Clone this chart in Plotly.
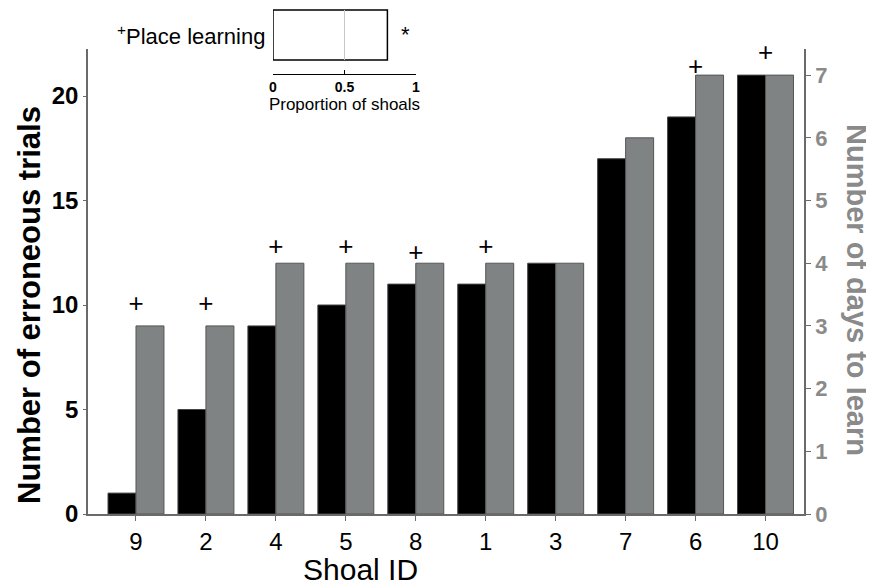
import plotly.graph_objects as go

# ---- data ----
shoal_ids = ["9", "2", "4", "5", "8", "1", "3", "7", "6", "10"]
erroneous_trials = [1, 5, 9, 10, 11, 11, 12, 17, 19, 21]
days_to_learn = [3, 3, 4, 4, 4, 4, 4, 6, 7, 7]
place_learning_y = [10.0, 10.0, 12.7, 12.7, 12.4, 12.7, None, None, 21.3, 22.0]
proportion_place = [0.8]
chance_level = 0.5
left_ticks = [0, 5, 10, 15, 20]
right_ticks = [0, 1, 2, 3, 4, 5, 6, 7]
inset_ticks = [0, 0.5, 1]
inset_ticklabels = ["0", "0.5", "1"]

plus_x = [s for s, v in zip(shoal_ids, place_learning_y) if v is not None]
plus_y = [v for v in place_learning_y if v is not None]

FONT = "Liberation Sans, Arial, sans-serif"
GREY = "#7f8383"
GREY_TEXT = "#8a8a8a"
AXIS = "#6a6a6a"
BW = 0.4
INSET_W = 0.76

# page body has an 8px margin: layout is expressed in window pixels and shifted
OFF = 8
PLOT_L, PLOT_R, PLOT_T, PLOT_B, PAPER_T = 88, 804, 49, 514, 8
PW = PLOT_R - PLOT_L
PH = PLOT_B - PAPER_T


def px(xw):
    return (xw - PLOT_L) / PW


def py(yw):
    return (PLOT_B - yw) / PH


fig = go.Figure()

fig.add_trace(go.Bar(
    x=shoal_ids, y=erroneous_trials, width=BW, offset=-BW,
    marker=dict(color="black", line=dict(color="#444444", width=1)),
    xaxis="x", yaxis="y", showlegend=False))
fig.add_trace(go.Bar(
    x=shoal_ids, y=days_to_learn, width=BW, offset=0,
    marker=dict(color=GREY, line=dict(color="#555555", width=1)),
    xaxis="x", yaxis="y2", showlegend=False))
fig.add_trace(go.Scatter(
    x=plus_x, y=plus_y, mode="text", text=["+"] * len(plus_x),
    textposition="middle center", textfont=dict(size=26, color="black", family=FONT),
    cliponaxis=False, xaxis="x", yaxis="y", showlegend=False))

# inset
fig.add_trace(go.Bar(
    x=proportion_place, y=[0], orientation="h", width=INSET_W,
    marker=dict(color="white", line=dict(color="black", width=1.5)),
    xaxis="x3", yaxis="y3", showlegend=False))
fig.add_trace(go.Scatter(
    x=[chance_level, chance_level], y=[-INSET_W / 2, INSET_W / 2], mode="lines",
    line=dict(color="#c8c8c8", width=1), xaxis="x3", yaxis="y3", showlegend=False))

main_top = py(PLOT_T)

fig.update_layout(
    width=874, height=586,
    margin=dict(l=PLOT_L - OFF, r=874 - (PLOT_R - OFF), t=PAPER_T - OFF, b=586 - (PLOT_B - OFF)),
    paper_bgcolor="white", plot_bgcolor="white",
    font=dict(family=FONT, color="black"),
    barmode="overlay",
    xaxis=dict(
        domain=[0, 1], range=[-0.686, 9.55], type="category",
        showline=True, linecolor=AXIS, linewidth=1.5,
        ticks="outside", ticklen=5, tickcolor=AXIS,
        tickfont=dict(size=24, family=FONT, color="black"),
        showgrid=False, zeroline=False, anchor="y"),
    yaxis=dict(
        domain=[0, main_top], range=[0, 22.25], tickvals=left_ticks,
        showline=True, linecolor=AXIS, linewidth=1.5,
        ticks="outside", ticklen=3, tickcolor=AXIS,
        tickfont=dict(size=24, family=FONT, color="black", weight="bold"),
        showgrid=False, zeroline=False, anchor="x"),
    yaxis2=dict(
        domain=[0, main_top], range=[0, 22.25 / 3], tickvals=right_ticks,
        overlaying="y", side="right", anchor="x",
        showline=True, linecolor=AXIS, linewidth=1.5,
        ticks="outside", ticklen=5, tickcolor=AXIS,
        tickfont=dict(size=22, family=FONT, color=GREY_TEXT, weight="bold"),
        showgrid=False, zeroline=False),
    xaxis3=dict(
        domain=[px(273), px(416)], range=[0, 1],
        tickvals=inset_ticks, ticktext=inset_ticklabels,
        showline=True, linecolor="black", linewidth=1,
        ticks="inside", ticklen=4, tickcolor="black",
        tickfont=dict(size=14, family=FONT, color="black", weight="bold"),
        title=dict(text="Proportion of shoals", font=dict(size=17, family=FONT), standoff=1),
        showgrid=False, zeroline=False, anchor="y3"),
    yaxis3=dict(
        domain=[py(74), 1.0], range=[-0.593, 0.41],
        visible=False, anchor="x3"),
    annotations=[
        dict(text="<b>Number of erroneous trials</b>", textangle=-90,
             xref="paper", yref="paper", x=px(30), y=py(305),
             xanchor="center", yanchor="middle", showarrow=False,
             font=dict(size=31, family=FONT, color="black")),
        dict(text="<b>Number of days to learn</b>", textangle=90,
             xref="paper", yref="paper", x=px(857), y=py(290),
             xanchor="center", yanchor="middle", showarrow=False,
             font=dict(size=29, family=FONT, color=GREY_TEXT)),
        dict(text="Shoal ID", xref="paper", yref="paper",
             x=px(360), y=py(569),
             xanchor="center", yanchor="middle", showarrow=False,
             font=dict(size=30, family=FONT, color="black")),
        dict(text="<sup>+</sup>Place learning", xref="x3", yref="y3",
             x=0, y=0, xanchor="right", yanchor="middle", xshift=-6,
             showarrow=False, font=dict(size=22, family=FONT, color="black")),
        dict(text="*", xref="x3", yref="y3",
             x=proportion_place[0], y=0, xanchor="left", yanchor="middle", xshift=12,
             showarrow=False, font=dict(size=22, family=FONT, color="black")),
    ],
)

fig.write_html("out.html")
